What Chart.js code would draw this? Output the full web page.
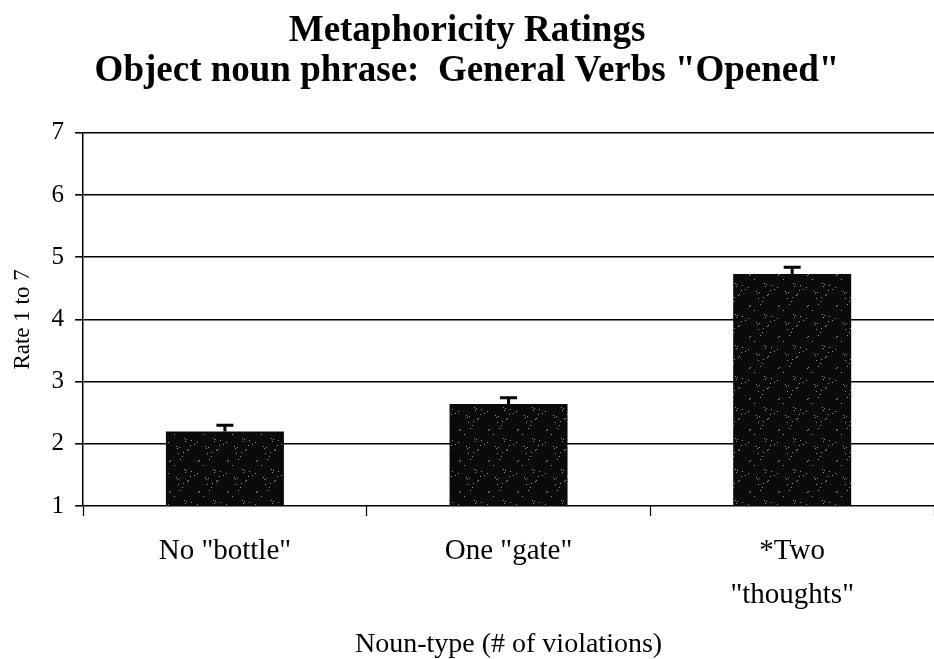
<!DOCTYPE html>
<html>
<head>
<meta charset="utf-8">
<script src="https://cdn.jsdelivr.net/npm/chart.js@4.4.1/dist/chart.umd.min.js"></script>
<style>
  html, body { margin: 0; padding: 0; background: #fff; }
  #wrap { width: 934px; height: 659px; }
</style>
</head>
<body>
<div id="wrap"><canvas id="chart" width="934" height="659"></canvas></div>
<script>
const categories = ['No "bottle"', 'One "gate"', ['*Two', '"thoughts"']];
const ratings = [2.2, 2.64, 4.73];
const errors = [0.1, 0.1, 0.11];
const yTicks = [1, 2, 3, 4, 5, 6, 7];

const serif = '"Liberation Serif", "Times New Roman", serif';

// speckled dark fill like the scanned bars
function makeSpeckle() {
  const c = document.createElement("canvas");
  c.width = 29;
  c.height = 31;
  const g = c.getContext("2d");
  g.fillStyle = "#0a0a0a";
  g.fillRect(0, 0, c.width, c.height);
  g.fillStyle = "#909090";
  for (let i = 0; i < c.width; i++) {
    for (let j = 0; j < c.height; j++) {
      if ((i * 17 + j * 31 + i * j * 7) % 41 === 0) g.fillRect(i, j, 1, 1);
    }
  }
  return g.createPattern(c, "repeat");
}

const errorBars = {
  id: "errorBars",
  afterDatasetsDraw(chart) {
    const { ctx } = chart;
    const y = chart.scales.y;
    const meta = chart.getDatasetMeta(0);
    ctx.save();
    ctx.strokeStyle = "#000";
    ctx.lineWidth = 3;
    meta.data.forEach((bar, i) => {
      const top = y.getPixelForValue(ratings[i] + errors[i]);
      const base = y.getPixelForValue(ratings[i]);
      ctx.beginPath();
      ctx.moveTo(bar.x, base);
      ctx.lineTo(bar.x, top);
      ctx.moveTo(bar.x - 8.5, top);
      ctx.lineTo(bar.x + 8.5, top);
      ctx.stroke();
    });
    ctx.restore();
  },
};

const ctx = document.getElementById("chart").getContext("2d");

new Chart(ctx, {
  type: "bar",
  data: {
    labels: categories,
    datasets: [
      {
        data: ratings,
        backgroundColor: makeSpeckle(),
        borderWidth: 0,
        barPercentage: 1,
        categoryPercentage: 0.416,
      },
    ],
  },
  options: {
    responsive: false,
    animation: false,
    layout: { padding: { left: 0, right: 0, top: 0, bottom: 0 } },
    plugins: {
      legend: { display: false },
      tooltip: { enabled: false },
      title: {
        display: true,
        text: ["Metaphoricity Ratings", 'Object noun phrase:  General Verbs "Opened"'],
        color: "#000",
        font: { family: serif, size: 37, weight: "bold", lineHeight: 1.08 },
        padding: { top: 11, bottom: 42 },
      },
    },
    scales: {
      x: {
        grid: {
          display: true,
          drawOnChartArea: false,
          offset: true,
          tickLength: 10,
          tickColor: "#000",
          tickWidth: 1.2,
        },
        border: { display: false },
        ticks: {
          color: "#000",
          font: { family: serif, size: 29, lineHeight: 1.5 },
          padding: 14,
          maxRotation: 0,
        },
        title: {
          display: true,
          text: "Noun-type (# of violations)",
          color: "#000",
          font: { family: serif, size: 28, lineHeight: 1 },
          padding: { top: 0, bottom: 0 },
        },
      },
      y: {
        min: 1,
        max: 7,
        afterBuildTicks: (axis) => {
          axis.ticks = yTicks.map((v) => ({ value: v }));
        },
        grid: {
          color: "#000",
          lineWidth: 1.6,
          tickLength: 8,
        },
        border: { display: true, color: "#000", width: 1.5 },
        ticks: {
          color: "#000",
          font: { family: serif, size: 25 },
          padding: 11,
        },
        title: {
          display: true,
          text: "Rate 1 to 7",
          color: "#000",
          font: { family: serif, size: 23 },
          padding: { top: 9, bottom: 4 },
        },
      },
    },
  },
  plugins: [errorBars],
});
</script>
</body>
</html>
